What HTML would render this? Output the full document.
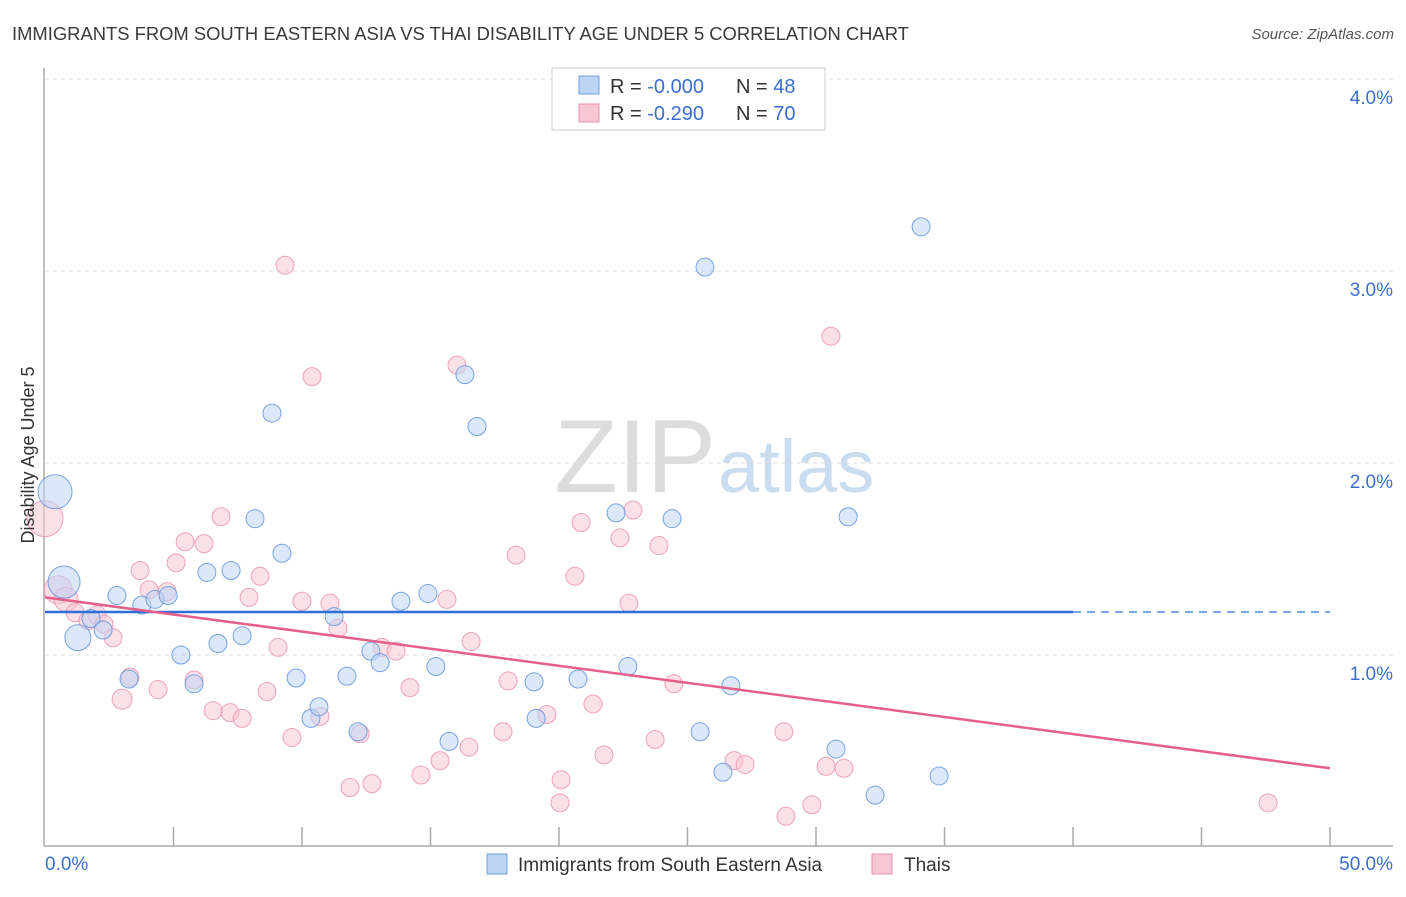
<!DOCTYPE html>
<html><head><meta charset="utf-8"><style>
body{margin:0;background:#fff;font-family:"Liberation Sans",sans-serif}
svg text{font-family:"Liberation Sans",sans-serif}
</style></head><body>
<svg id="c" width="1406" height="892" xmlns="http://www.w3.org/2000/svg">
<text x="12" y="40" font-size="18.4" fill="#3a3a3a">IMMIGRANTS FROM SOUTH EASTERN ASIA VS THAI DISABILITY AGE UNDER 5 CORRELATION CHART</text>
<text x="1394" y="39" font-size="15" fill="#555" text-anchor="end" font-style="italic">Source: ZipAtlas.com</text>
<text x="716" y="492" font-size="104" fill="#ddd" text-anchor="end" font-family="Liberation Serif">ZIP</text>
<text x="718" y="492" font-size="74" fill="#c9dcf0">atlas</text>
<g id="grid"></g><g id="axes"></g><g id="pts"></g><g id="trend"></g>
<text x="34" y="455" font-size="18" fill="#333" text-anchor="middle" transform="rotate(-90 34 455)">Disability Age Under 5</text>
<g>
<rect x="552" y="68" width="273" height="62" fill="#fff" stroke="#ccc"/>
<rect x="579" y="76" width="20" height="18" fill="#bcd5f5" stroke="#6fa0e0"/>
<rect x="579" y="104" width="20" height="18" fill="#f9c6d6" stroke="#e890ac"/>
<text x="610" y="93" font-size="20" fill="#333">R = <tspan fill="#3a6fd0">-0.000</tspan></text>
<text x="736" y="93" font-size="20" fill="#333">N = <tspan fill="#3a6fd0">48</tspan></text>
<text x="610" y="120" font-size="20" fill="#333">R = <tspan fill="#3a6fd0"> -0.290</tspan></text>
<text x="736" y="120" font-size="20" fill="#333">N = <tspan fill="#3a6fd0">70</tspan></text>
</g>
<g>
<rect x="487" y="854" width="20" height="20" fill="#bcd5f5" stroke="#6fa0e0"/>
<text x="518" y="871" font-size="19" fill="#333">Immigrants from South Eastern Asia</text>
<rect x="872" y="854" width="20" height="20" fill="#f9c6d6" stroke="#e890ac"/>
<text x="904" y="871" font-size="19" fill="#333">Thais</text>
</g>
</svg>
<script>
const yTicks=[1,2,3,4];
const yTickLabels=["1.0%","2.0%","3.0%","4.0%"];
const xTickLabels=["0.0%","50.0%"];
const blueX=[0.39,0.74,1.28,2.80,3.77,4.28,4.79,1.79,2.26,3.27,5.29,5.80,6.30,6.73,7.24,7.67,8.17,8.83,9.22,9.77,10.35,10.66,11.25,11.75,12.18,12.68,13.04,13.85,14.90,15.21,15.72,16.34,16.81,19.03,19.11,20.74,22.22,22.68,24.40,25.49,25.68,26.38,26.69,30.78,31.25,32.30,34.09,34.79];
const blueY=[1.85,1.38,1.09,1.31,1.26,1.29,1.31,1.19,1.13,0.875,1.00,0.85,1.43,1.06,1.44,1.10,1.71,2.26,1.53,0.88,0.67,0.73,1.20,0.89,0.60,1.02,0.96,1.28,1.32,0.94,0.55,2.46,2.19,0.86,0.67,0.875,1.74,0.94,1.71,0.60,3.02,0.39,0.84,0.51,1.72,0.27,3.23,0.37];
const blueR=[17,16,13,9,9,9,9,9,9,9,9,9,9,9,9,9,9,9,9,9,9,9,9,9,9,9,9,9,9,9,9,9,9,9,9,9,9,9,9,9,9,9,9,9,9,9,9,9];
const pinkX=[0.0,0.51,0.82,1.17,1.67,2.02,2.30,2.65,3.00,3.31,3.70,4.05,4.40,4.75,5.10,5.45,5.80,6.19,6.54,6.85,7.20,7.67,7.94,8.37,8.64,9.07,9.34,9.61,10.00,10.39,10.70,11.09,11.40,11.87,12.26,12.72,13.11,13.66,14.20,14.63,15.37,15.64,16.03,16.50,16.58,18.02,17.82,18.33,19.53,20.04,20.08,20.62,20.86,21.32,21.75,22.37,22.72,22.88,23.74,23.89,24.47,26.81,27.24,28.75,28.83,29.84,30.39,30.58,31.09,47.59];
const pinkY=[1.71,1.34,1.29,1.22,1.18,1.21,1.16,1.09,0.77,0.885,1.44,1.34,0.82,1.33,1.48,1.59,0.87,1.58,0.71,1.72,0.70,0.67,1.30,1.41,0.81,1.04,3.03,0.57,1.28,2.45,0.68,1.27,1.14,0.31,0.59,0.33,1.04,1.02,0.83,0.375,0.45,1.29,2.51,0.52,1.07,0.865,0.60,1.52,0.69,0.23,0.35,1.41,1.69,0.745,0.48,1.61,1.27,1.755,0.56,1.57,0.85,0.45,0.43,0.60,0.16,0.22,0.42,2.66,0.41,0.23];
const pinkR=[18,14,12,9,9,9,9,9,10,9,9,9,9,9,9,9,9,9,9,9,9,9,9,9,9,9,9,9,9,9,9,9,9,9,9,9,9,9,9,9,9,9,9,9,9,9,9,9,9,9,9,9,9,9,9,9,9,9,9,9,9,9,9,9,9,9,9,9,9,9];
const blueTrend=[1.224,1.224];
const pinkTrend=[1.30,0.41];
const NS="http://www.w3.org/2000/svg";
const xs=v=>45+v*25.7, ys=v=>847-v*192;
function mk(t,a,p){const e=document.createElementNS(NS,t);for(const k in a)e.setAttribute(k,a[k]);p.appendChild(e);return e;}
const grid=document.getElementById('grid'),axes=document.getElementById('axes'),pts=document.getElementById('pts'),tr=document.getElementById('trend');
yTicks.forEach((v,i)=>{
 const l=mk('line',{x1:45,x2:1393,y1:ys(v),y2:ys(v),stroke:'#ddd','stroke-dasharray':'4 4'},grid);
 
 
 const t=mk('text',{x:1393,y:ys(v)+25,'font-size':19,fill:'#3a6fd0','text-anchor':'end'},axes);
 t.textContent=yTickLabels[i];
 
 
});
let ax=mk('line',{x1:44,x2:44,y1:68,y2:846,stroke:'#aaa','stroke-width':1.5},axes);


ax=mk('line',{x1:44,x2:1393,y1:846,y2:846,stroke:'#aaa','stroke-width':1.5},axes);


for(let i=1;i<=10;i++){const tk=mk('line',{x1:xs(i*5),x2:xs(i*5),y1:827,y2:846,stroke:'#aaa','stroke-width':1.5},axes);
 
 }
[[0,'start',45],[1,'end',1393]].forEach(([i,a,x])=>{const t=mk('text',{x:x,y:870,'font-size':19,fill:'#3a6fd0','text-anchor':a},axes);t.textContent=xTickLabels[i];
 
 });
function dots(X,Y,R,fill,stroke,name){X.forEach((x,i)=>{const c=mk('circle',{cx:xs(x),cy:ys(Y[i]),r:R[i],fill:fill,'fill-opacity':0.55,stroke:stroke,'stroke-width':1,'stroke-opacity':0.8},pts);
 
 });}
dots(pinkX,pinkY,pinkR,'#f9c6d6','#e890ac','thai-point');
dots(blueX,blueY,blueR,'#bcd5f5','#5b8fdc','sea-immigrant-point');
let t1=mk('line',{x1:xs(0),x2:xs(40),y1:ys(blueTrend[0]),y2:ys(blueTrend[0]+(blueTrend[1]-blueTrend[0])*0.8),stroke:'#2f6fd6','stroke-width':2.5},tr);


t1=mk('line',{x1:xs(40),x2:xs(50),y1:ys(blueTrend[0]+(blueTrend[1]-blueTrend[0])*0.8),y2:ys(blueTrend[1]),stroke:'#2f6fd6','stroke-width':1.2,'stroke-dasharray':'8 6'},tr);


t1=mk('line',{x1:xs(0),x2:xs(50),y1:ys(pinkTrend[0]),y2:ys(pinkTrend[1]),stroke:'#e4608a','stroke-width':2.5},tr);


</script>
</body></html>
